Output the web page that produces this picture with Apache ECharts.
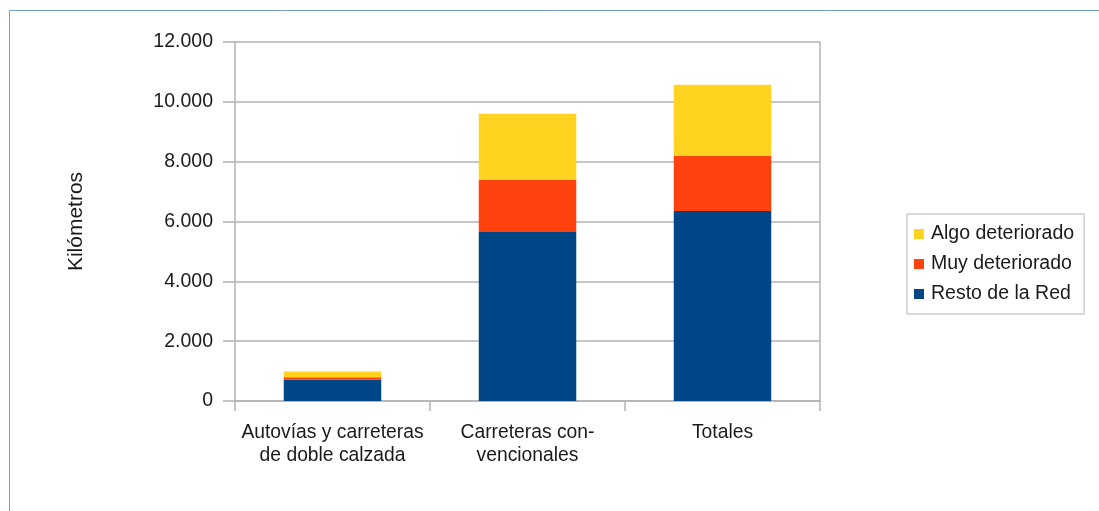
<!DOCTYPE html>
<html>
<head>
<meta charset="utf-8">
<script src="https://cdn.jsdelivr.net/npm/echarts@6/dist/echarts.min.js"></script>
<style>html,body{margin:0;padding:0;background:#fff;}#c{width:1099px;height:511px;}</style>
</head>
<body>
<div id="c"></div>
<script>
const categories = ['Autovías y carreteras\nde doble calzada', 'Carreteras con-\nvencionales', 'Totales'];
const restoRed = [720, 5645, 6350];
const muyDeteriorado = [70, 1742, 1840];
const algoDeteriorado = [200, 2211, 2380];
const yTicks = [0, 2000, 4000, 6000, 8000, 10000, 12000];
const legendNames = ['Algo deteriorado', 'Muy deteriorado', 'Resto de la Red'];

const font = 'Liberation Sans, Arial, sans-serif';
const axisColor = '#b3b3b3';
const chart = echarts.init(document.getElementById('c'));
function fmt(v){ return v === 0 ? '0' : String(v).replace(/(\d)(?=(\d{3})+$)/g, '$1.'); }
chart.setOption({
  animation: false,
  textStyle: { fontFamily: font },
  graphic: [{
    type: 'rect', shape: { x: 9.5, y: 10.5, width: 1200, height: 600 },
    style: { fill: 'none', stroke: '#729fcf', lineWidth: 1 }, silent: true
  }],
  grid: { left: 235, right: 279, top: 42, bottom: 110 },
  legend: {
    data: legendNames, orient: 'vertical', left: 907, top: 214,
    width: 181, itemWidth: 14, itemHeight: 10, itemGap: 10,
    icon: 'path://M0,0L10,0L10,10L0,10Z', symbolKeepAspect: true,
    padding: [10, 10, 10, 7], borderColor: axisColor, borderWidth: 1,
    textStyle: { fontSize: 19.5, color: '#1a1a1a', fontFamily: font }
  },
  xAxis: {
    type: 'category', data: categories,
    axisLine: { lineStyle: { color: axisColor, width: 1.5 } },
    axisTick: { show: true, interval: 0, length: 10, lineStyle: { color: axisColor, width: 1.5 } },
    axisLabel: { interval: 0, fontSize: 19.3, color: '#1a1a1a', margin: 20, lineHeight: 23, fontFamily: font },
    splitLine: { show: false }
  },
  yAxis: [{
    type: 'value', min: 0, max: 12000, interval: 2000,
    name: 'Kilómetros', nameLocation: 'middle', nameGap: 148, nameRotate: 90,
    nameTextStyle: { fontSize: 21, color: '#1a1a1a', fontFamily: font },
    axisLine: { show: true, lineStyle: { color: axisColor, width: 1.5 } },
    axisTick: { show: true, length: 12, lineStyle: { color: axisColor, width: 1.5 } },
    axisLabel: { fontSize: 19.5, color: '#1a1a1a', margin: 22, fontFamily: font,
      formatter: function(v){ return yTicks.indexOf(v) >= 0 ? fmt(v) : ''; } },
    splitLine: { lineStyle: { color: axisColor, width: 1.5 } }
  }, {
    type: 'value', min: 0, max: 12000, interval: 2000, position: 'right',
    axisLine: { show: true, lineStyle: { color: axisColor, width: 1.5 } },
    axisTick: { show: false }, axisLabel: { show: false }, splitLine: { show: false }
  }],
  series: [
    { name: 'Resto de la Red', type: 'bar', stack: 's', data: restoRed, barWidth: '50%', itemStyle: { color: '#004586' } },
    { name: 'Muy deteriorado', type: 'bar', stack: 's', data: muyDeteriorado, itemStyle: { color: '#ff420e' } },
    { name: 'Algo deteriorado', type: 'bar', stack: 's', data: algoDeteriorado, itemStyle: { color: '#ffd320' } }
  ]
});
</script>
</body>
</html>
